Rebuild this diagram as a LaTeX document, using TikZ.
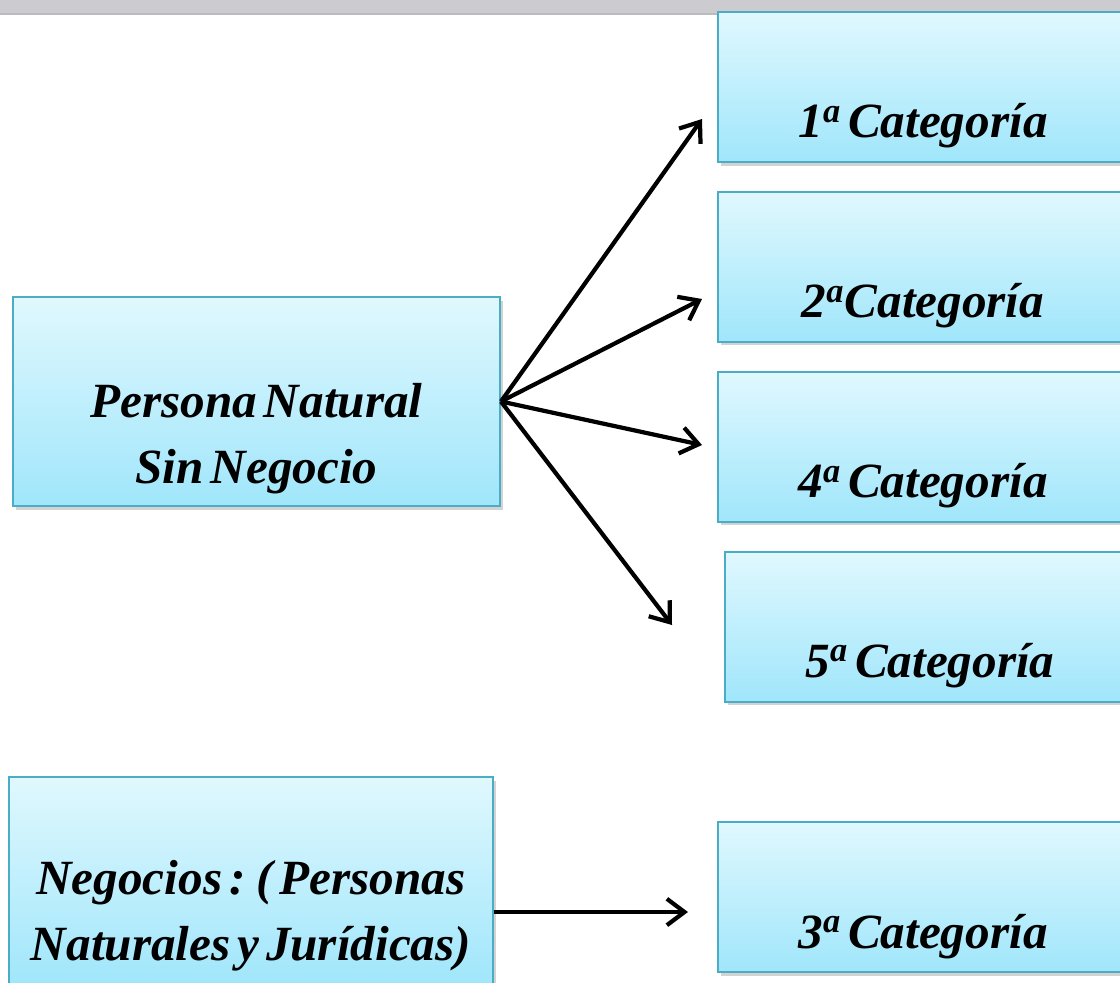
\documentclass[tikz,border=0pt]{standalone}
\usepackage{fontspec}
\setmainfont{Liberation Serif}
\usepackage{tikz}
\usetikzlibrary{positioning,shadows,arrows.meta}

\definecolor{cajaborde}{HTML}{4BACC6}
\definecolor{cajaarriba}{HTML}{E0F8FE}
\definecolor{cajaabajo}{HTML}{A0E6FB}
\definecolor{barra}{HTML}{CCCBD0}

\newcommand{\letracaja}{\fontsize{28}{37}\selectfont\bfseries\itshape\spaceskip=0.14em plus 0.05em\relax}

\tikzset{
  caja/.style={draw=cajaborde, line width=1.1pt, top color=cajaarriba, bottom color=cajaabajo,
    drop shadow={shadow xshift=1.5pt, shadow yshift=-2pt, opacity=0.35},
    inner xsep=0pt, inner ysep=0pt, font=\letracaja},
  categoria/.style={caja, minimum width=8.2cm, minimum height=3cm, text height=2.52cm, text depth=0.48cm},
  grupo/.style={caja, minimum height=4.18cm, text height=3.72cm, text depth=0.46cm},
  flecha/.style={->, line width=2.4pt},
  >={Straight Barb[length=10pt,width=15pt]}
}

\begin{document}
\begin{tikzpicture}
    \useasboundingbox (0,0) rectangle (22.4,-19.66);
    \clip (0,0) rectangle (22.4,-19.66);
    % Top bar
    \fill[barra] (0,0) rectangle (22.4,-0.29);
    \fill[barra!92!black] (0,-0.27) rectangle (22.4,-0.31);
    % Left boxes
    \node[grupo, minimum width=9.74cm] (natural) at (5.13,-8.03)
        {\begin{tabular}[b]{@{}c@{}}Persona Natural\\Sin Negocio\end{tabular}};
    \node[grupo, minimum width=9.68cm, text depth=0.52cm, text height=3.66cm] (negocios) at (5.02,-17.63)
        {\begin{tabular}[b]{@{}c@{}}Negocios : ( Personas\\Naturales y Jurídicas)\end{tabular}};
    % Category boxes
    \node[categoria] (cat1) at (18.46,-1.74) {1\textsuperscript{a} Categoría};
    \node[categoria, below=0.56cm of cat1] (cat2) {2\textsuperscript{a}Categoría};
    \node[categoria, below=0.56cm of cat2] (cat4) {4\textsuperscript{a} Categoría};
    \node[categoria, below=0.56cm of cat4, xshift=0.14cm] (cat5) {5\textsuperscript{a} Categoría};
    \node[categoria] (cat3) at (18.46,-17.94) {3\textsuperscript{a} Categoría};
    % Free ends of the arrows
    \coordinate (fin1) at (14.04,-2.38);
    \coordinate (fin2) at (14.04,-5.98);
    \coordinate (fin4) at (14.04,-8.90);
    \coordinate (fin5) at (13.44,-12.50);
    \coordinate (fin3) at (13.76,-18.24);
    % Arrows
    \draw[flecha] (natural.east) -- (fin1);
    \draw[flecha] (natural.east) -- (fin2);
    \draw[flecha] (natural.east) -- (fin4);
    \draw[flecha] (natural.east) -- (fin5);
    \draw[flecha] (negocios.east |- fin3) -- (fin3);
\end{tikzpicture}
\end{document}
